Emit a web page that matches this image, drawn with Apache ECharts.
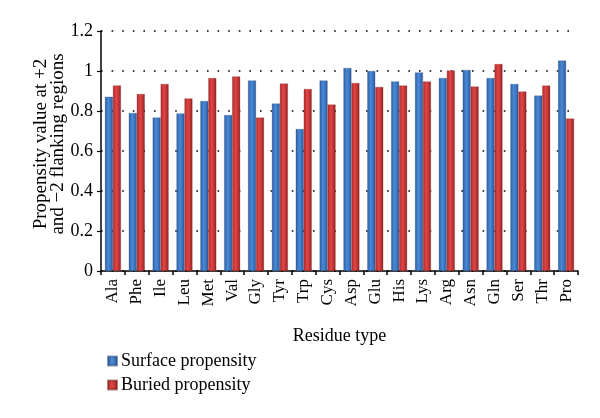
<!DOCTYPE html>
<html>
<head>
<meta charset="utf-8">
<script src="https://cdn.jsdelivr.net/npm/echarts@6/dist/echarts.min.js"></script>
<style>html,body{margin:0;padding:0;background:#fff}#c{width:600px;height:418px}</style>
</head>
<body>
<div id="c"></div>
<script>
var categories = ['Ala','Phe','Ile','Leu','Met','Val','Gly','Tyr','Trp','Cys','Asp','Glu','His','Lys','Arg','Asn','Gln','Ser','Thr','Pro'];
var surface = [0.871,0.790,0.767,0.788,0.850,0.780,0.953,0.837,0.710,0.952,1.015,1.000,0.948,0.993,0.965,1.005,0.965,0.935,0.877,1.052];
var buried  = [0.928,0.885,0.935,0.863,0.965,0.973,0.767,0.937,0.910,0.832,0.940,0.920,0.927,0.948,1.003,0.922,1.035,0.897,0.927,0.762];
var yTicks = [0, 0.2, 0.4, 0.6, 0.8, 1, 1.2];

var FONT = '"Liberation Serif", "DejaVu Serif", serif';
function grad(a, b, c) {
  return new echarts.graphic.LinearGradient(0, 0, 1, 0, [
    {offset: 0, color: a}, {offset: 0.45, color: b}, {offset: 1, color: c}
  ]);
}
var chart = echarts.init(document.getElementById('c'), null, {renderer: 'canvas'});
chart.setOption({
  animation: false,
  backgroundColor: '#fff',
  grid: {left: 101, right: 22, top: 31, bottom: 147, containLabel: false},
  legend: {
    orient: 'vertical', left: 102, top: 347,
    itemWidth: 9, itemHeight: 9, itemGap: 6,
    icon: 'rect',
    textStyle: {fontFamily: FONT, fontSize: 18, color: '#000', padding: [0,0,0,-1]},
    data: ['Surface propensity', 'Buried propensity']
  },
  xAxis: {
    type: 'category', data: categories,
    name: 'Residue type', nameLocation: 'middle', nameGap: 56,
    nameTextStyle: {fontFamily: FONT, fontSize: 18, color: '#000'},
    axisLine: {lineStyle: {color: '#000', width: 1.5}},
    axisTick: {show: true, alignWithLabel: false, length: 4, lineStyle: {color: '#000', width: 1.5}},
    axisLabel: {rotate: 90, fontFamily: FONT, fontSize: 17, color: '#000', margin: 8, interval: 0},
    splitLine: {show: false}
  },
  yAxis: {
    type: 'value', min: 0, max: 1.2, interval: 0.2,
    name: 'Propensity value at +2\nand \u22122 flanking regions',
    nameLocation: 'middle', nameRotate: 90, nameGap: 34, nameMoveOverlap: false,
    nameTextStyle: {fontFamily: FONT, fontSize: 19, color: '#000', lineHeight: 17, padding: [0, 0, 0, 14]},
    axisLine: {show: true, lineStyle: {color: '#000', width: 1.5}},
    axisTick: {show: true, length: 4, lineStyle: {color: '#000', width: 1.2}},
    axisLabel: {fontFamily: FONT, fontSize: 18, color: '#000', margin: 8,
      formatter: function (v) {
        for (var i = 0; i < yTicks.length; i++) if (Math.abs(yTicks[i] - v) < 1e-6) return String(yTicks[i]);
        return '';
      }},
    splitLine: {show: true, lineStyle: {color: '#000', width: 1.6, type: [1.6, 9]}}
  },
  series: [
    {
      name: 'Surface propensity', type: 'bar', data: surface,
      barWidth: 8, barGap: '0%',
      itemStyle: {color: grad('#2c5fa6', '#4b8ad6', '#2a5b9e'), borderColor: 'rgba(30,60,110,0.5)', borderWidth: 0.5}
    },
    {
      name: 'Buried propensity', type: 'bar', data: buried,
      barWidth: 8, barGap: '0%',
      itemStyle: {color: grad('#b32a2a', '#e04646', '#992222'), borderColor: 'rgba(110,20,20,0.5)', borderWidth: 0.5}
    }
  ]
});
</script>
</body>
</html>
